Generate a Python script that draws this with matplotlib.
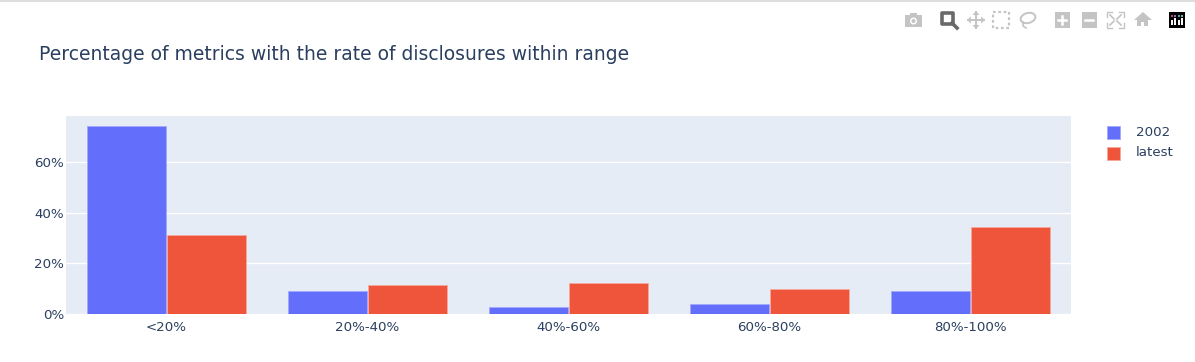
import numpy as np
import matplotlib
matplotlib.use("Agg")
import matplotlib.pyplot as plt
from matplotlib.patches import Rectangle, Circle, Ellipse, Polygon

# Data
categories = ['<20%', '20%-40%', '40%-60%', '60%-80%', '80%-100%']
values_2002 = [74.5, 9.0, 2.6, 4.1, 9.0]
values_latest = [31.4, 11.5, 12.1, 10.0, 34.4]
y_ticks = [0, 20, 40, 60]

W, H = 1195, 362
BLUE = '#636efa'
RED = '#EF553B'
TEXT = '#2a3f5f'

fig = plt.figure(figsize=(W / 100, H / 100), dpi=100)
ax = fig.add_axes([66 / W, 1 - 314 / H, 1005 / W, 198 / H])
ax.set_facecolor('#E5ECF6')

x = np.arange(len(categories))
ax.bar(x - 0.2, values_2002, 0.395, color=BLUE, edgecolor='#a3a9fb', linewidth=0.6, label='2002', zorder=3)
ax.bar(x + 0.2, values_latest, 0.395, color=RED, edgecolor='#f6a89b', linewidth=0.6, label='latest', zorder=3)

ax.set_xlim(-0.5, 4.5)
ax.set_ylim(0, 78.4)
ax.set_xticks(x)
ax.set_xticklabels(categories)
ax.set_yticks(y_ticks)
ax.set_yticklabels([f'{t}%' for t in y_ticks])
ax.grid(axis='y', color='white', linewidth=1, zorder=1)
ax.tick_params(length=0, labelsize=9.6, labelcolor=TEXT, pad=5)
ax.tick_params(axis='y', pad=1.5)
for s in ax.spines.values():
    s.set_visible(False)

fig.text(39 / W, 1 - 55 / H, 'Percentage of metrics with the rate of disclosures within range',
         fontsize=13.48, color=TEXT, va='center', ha='left')

# pixel-coordinate overlay for legend and modebar
ov = fig.add_axes([0, 0, 1, 1], zorder=5)
ov.set_xlim(0, W)
ov.set_ylim(H, 0)
ov.axis('off')
ov.patch.set_alpha(0)

ov.add_patch(Rectangle((0, 0), W, 1.5, color='#dddddd', lw=0))

# legend
handles, labels = ax.get_legend_handles_labels()
for y, h, lab in zip([132, 153], handles, labels):
    ov.add_patch(Rectangle((1107, y - 6.5), 13, 13, facecolor=h.patches[0].get_facecolor(),
                           edgecolor=h.patches[0].get_edgecolor(), lw=0.6))
    ov.text(1136, y, lab, fontsize=9.6, color=TEXT, va='center', ha='left')

# modebar icons
G = '#c4c4c4'
# camera
ov.add_patch(Rectangle((905, 15), 17, 12, color=G, lw=0))
ov.add_patch(Rectangle((910, 13), 7, 3, color=G, lw=0))
ov.add_patch(Circle((913.5, 21), 3.5, facecolor='white', edgecolor='none'))
ov.add_patch(Circle((913.5, 21), 2, color=G, lw=0))
# zoom (active)
ov.add_patch(Rectangle((942, 13), 11, 11, facecolor='none', edgecolor='#6a6a6a', lw=2.6, joinstyle='round'))
ov.plot([952, 957], [23, 28], color='#6a6a6a', lw=2.6)
# pan
ov.plot([968, 984], [20, 20], color=G, lw=1.4)
ov.plot([976, 976], [12, 28], color=G, lw=1.4)
for pts in ([(967, 20), (971, 16.5), (971, 23.5)], [(985, 20), (981, 16.5), (981, 23.5)],
            [(976, 11), (972.5, 15), (979.5, 15)], [(976, 29), (972.5, 25), (979.5, 25)]):
    ov.add_patch(Polygon(pts, color=G, lw=0))
# box select
ov.add_patch(Rectangle((993.5, 12), 16, 15.5, facecolor='none', edgecolor=G, lw=1.6, linestyle=(0, (1.2, 1.2))))
# lasso
ov.add_patch(Ellipse((1028, 18), 15, 10, angle=-15, facecolor='none', edgecolor=G, lw=1.4))
ov.plot([1023, 1023, 1026], [22, 26, 28], color=G, lw=1.2)
# zoom in / out
ov.add_patch(Rectangle((1055, 12), 15, 15.5, color=G, lw=0))
ov.plot([1058.5, 1066.5], [19.7, 19.7], color='white', lw=1.8)
ov.plot([1062.5, 1062.5], [15.7, 23.7], color='white', lw=1.8)
ov.add_patch(Rectangle((1082, 12), 15, 15.5, color=G, lw=0))
ov.plot([1085.5, 1093.5], [19.7, 19.7], color='white', lw=1.8)
# autoscale
for cx, cy, dx, dy in [(1107, 12, 1, 1), (1124, 12, -1, 1), (1107, 28, 1, -1), (1124, 28, -1, -1)]:
    ov.plot([cx + 5 * dx, cx, cx], [cy, cy, cy + 5 * dy], color=G, lw=1)
    ov.plot([cx + 3 * dx, cx + 7 * dx], [cy + 3 * dy, cy + 7 * dy], color=G, lw=1.2)
# home
ov.add_patch(Polygon([(1134, 20), (1143, 12), (1152, 20)], color=G, lw=0))
ov.add_patch(Rectangle((1137.5, 19), 11, 7, color=G, lw=0))
ov.add_patch(Rectangle((1141.5, 22), 3, 4, color='white', lw=0))
# plotly logo
ov.add_patch(Rectangle((1169, 12), 16, 16, color='black', lw=0))
for px, top, dot in zip([1172, 1175.5, 1179, 1182.5], [20, 18, 20, 18], ['#b5446e', '#8a6fa8', '#4f9fb0', '#7fb0a0']):
    ov.plot([px, px], [top, 25], color='white', lw=1.4, solid_capstyle='butt')
    ov.add_patch(Rectangle((px - 1, 14.5), 2, 2, color=dot, lw=0))

fig.savefig('out.png', dpi=100)
